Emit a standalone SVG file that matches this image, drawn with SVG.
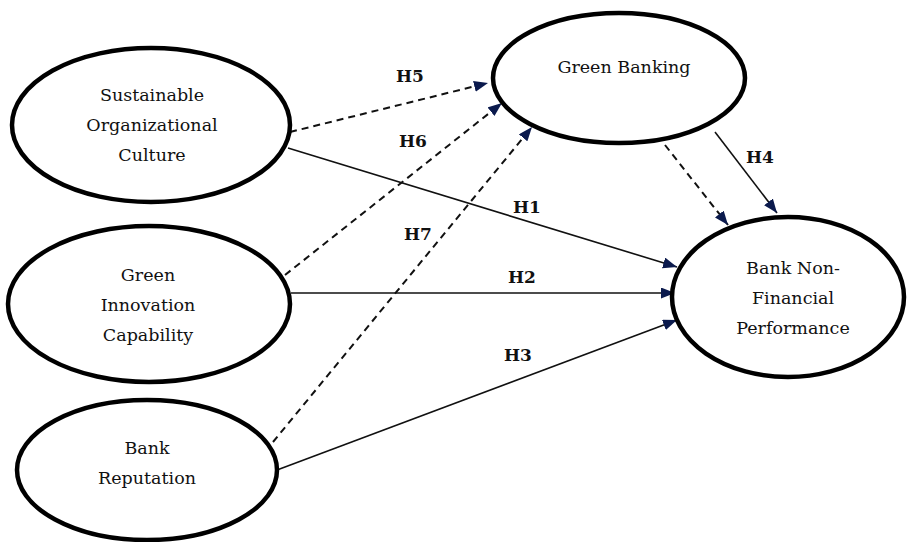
<svg xmlns="http://www.w3.org/2000/svg" width="907" height="542" viewBox="0 0 907 542">
<style>
.node ellipse{fill:#fff;stroke:#000;stroke-width:4.5}
.node text{font-family:"DejaVu Serif","Liberation Serif",serif;font-size:17.5px;fill:#111;text-anchor:middle;dominant-baseline:central}
.solid{stroke:#111;stroke-width:1.6;fill:none}
.dash{stroke:#111;stroke-width:2;fill:none;stroke-dasharray:7 5}
.lbl{font-family:"DejaVu Serif","Liberation Serif",serif;font-size:17px;font-weight:bold;fill:#111;text-anchor:middle;dominant-baseline:central}
</style>
<defs>
<marker id="ah" markerUnits="userSpaceOnUse" markerWidth="16" markerHeight="12" refX="14" refY="5.5" orient="auto">
<path d="M0,0 L14,5.5 L0,11 Z" fill="#0b1a4d"/>
</marker>
</defs>
<rect width="907" height="542" fill="#fff"/>
<g id="connectors">
<line class="dash" x1="290" y1="132" x2="488" y2="83" marker-end="url(#ah)"/>
<line class="solid" x1="288" y1="148" x2="677" y2="267" marker-end="url(#ah)"/>
<line class="dash" x1="285" y1="275" x2="502" y2="103" marker-end="url(#ah)"/>
<line class="dash" x1="273" y1="442" x2="532" y2="127" marker-end="url(#ah)"/>
<line class="solid" x1="291" y1="293" x2="675" y2="293" marker-end="url(#ah)"/>
<line class="solid" x1="277" y1="470" x2="677" y2="320" marker-end="url(#ah)"/>
<line class="dash" x1="665" y1="145" x2="728" y2="225" marker-end="url(#ah)"/>
<line class="solid" x1="715" y1="132" x2="777" y2="213" marker-end="url(#ah)"/>
<text class="lbl" x="410" y="76">H5</text>
<text class="lbl" x="413" y="141">H6</text>
<text class="lbl" x="527" y="207">H1</text>
<text class="lbl" x="418" y="234">H7</text>
<text class="lbl" x="522" y="277">H2</text>
<text class="lbl" x="518" y="355">H3</text>
<text class="lbl" x="760" y="157">H4</text>
</g>
<g id="soc" class="node">
<ellipse cx="151" cy="125" rx="139" ry="77"/>
<text x="152" y="95">Sustainable</text>
<text x="152" y="125">Organizational</text>
<text x="152" y="155">Culture</text>
</g>
<g id="gic" class="node">
<ellipse cx="149" cy="304" rx="141" ry="78"/>
<text x="148" y="275">Green</text>
<text x="148" y="305">Innovation</text>
<text x="148" y="335">Capability</text>
</g>
<g id="br" class="node">
<ellipse cx="147" cy="470" rx="130" ry="70"/>
<text x="147" y="448">Bank</text>
<text x="147" y="478">Reputation</text>
</g>
<g id="gb" class="node">
<ellipse cx="619" cy="78" rx="126" ry="65"/>
<text x="624" y="67">Green Banking</text>
</g>
<g id="bnfp" class="node">
<ellipse cx="788" cy="297" rx="116" ry="80"/>
<text x="793" y="268">Bank Non-</text>
<text x="793" y="298">Financial</text>
<text x="793" y="328">Performance</text>
</g>
</svg>
